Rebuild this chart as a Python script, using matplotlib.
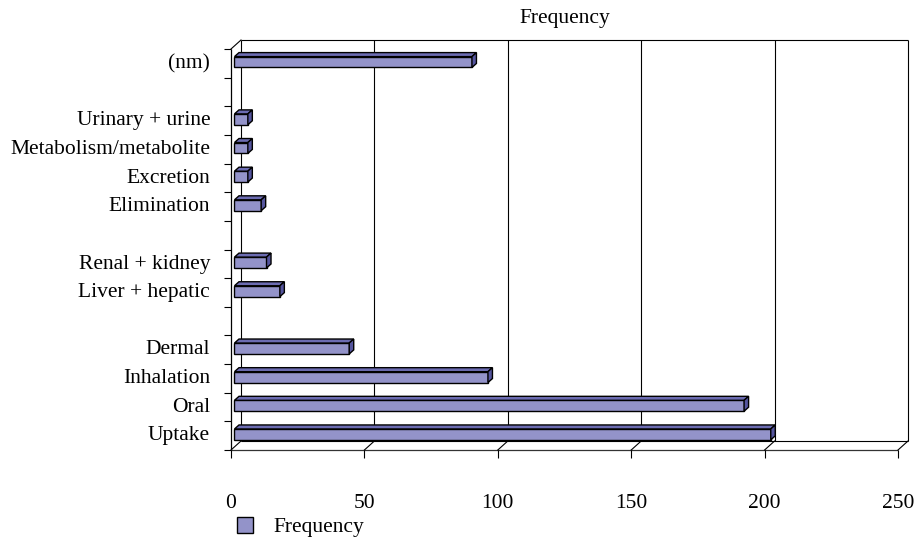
import numpy as np
import matplotlib.pyplot as plt
import matplotlib.transforms as mtransforms
from matplotlib.patches import Polygon
from matplotlib.lines import Line2D

# Данные (снизу вверх, пустые строки - разрывы между группами)
categories = ["Uptake", "Oral", "Inhalation", "Dermal", "",
              "Liver + hepatic", "Renal + kidney", "",
              "Elimination", "Excretion", "Metabolism/metabolite",
              "Urinary + urine", "", "(nm)"]
frequency = [201, 191, 95, 43, None, 17, 12, None, 10, 5, 5, 5, None, 89]
x_ticks = [0, 50, 100, 150, 200, 250]

front_c = '#9393c9'
top_c = '#6c6cb2'
side_c = '#55559e'

plt.rcParams['font.family'] = ['Liberation Serif', 'DejaVu Serif']
fs = 15.5

W, H = 917, 539
fig = plt.figure(figsize=(W / 100, H / 100), dpi=100)
ax = fig.add_axes([231 / W, (H - 450) / H, (898 - 231) / W, (450 - 49) / H])
ax.patch.set_visible(False)
for s in ax.spines.values():
    s.set_visible(False)

n = len(categories)
ypos = np.arange(n)
vals = np.array([np.nan if v is None else v for v in frequency], dtype=float)

ax.set_xlim(0, 250)
ax.set_ylim(-0.5, n - 0.5)

# смещение задней стенки (псевдо-3D)
depth = (10, 9)
back = mtransforms.offset_copy(ax.transData, fig=fig, x=depth[0], y=depth[1], units='dots')
ident = mtransforms.IdentityTransform()

# задняя стенка
ax.vlines(x_ticks, -0.5, n - 0.5, transform=back, color='black', lw=0.8, zorder=1, clip_on=False)
ax.hlines([-0.5, n - 0.5], 0, 250, transform=back, color='black', lw=0.8, zorder=1, clip_on=False)

# пол и левая стенка: передние линии
ax.hlines(-0.5, 0, 250, color='#333333', lw=0.9, zorder=1, clip_on=False)
ax.vlines(0, -0.5, n - 0.5, color='black', lw=0.9, zorder=1, clip_on=False)

# диагонали
for x in x_ticks:
    p0 = ax.transData.transform((x, -0.5))
    fig.add_artist(Line2D([p0[0], p0[0] + depth[0]], [p0[1], p0[1] + depth[1]],
                          transform=ident, color='black', lw=0.8))
p0 = ax.transData.transform((0, n - 0.5))
fig.add_artist(Line2D([p0[0], p0[0] + depth[0]], [p0[1], p0[1] + depth[1]],
                      transform=ident, color='black', lw=0.8))

# столбцы
bar_plane = mtransforms.offset_copy(ax.transData, fig=fig, x=3.5, y=3, units='dots')
bh = 0.38
yc = ypos - 0.06
mask = ~np.isnan(vals)
bars = ax.barh(yc[mask], vals[mask], height=bh, color=front_c, edgecolor='black',
               lw=1, transform=bar_plane, zorder=4, label='Frequency', clip_on=False)

d = np.array([4.5, 4.0])
for y, v in zip(yc[mask], vals[mask]):
    br = bar_plane.transform((v, y - bh / 2))
    tl = bar_plane.transform((0, y + bh / 2))
    tr = bar_plane.transform((v, y + bh / 2))
    top = Polygon([tl, tr, tr + d, tl + d], closed=True, transform=ident,
                  facecolor=top_c, edgecolor='black', lw=1, zorder=3)
    side = Polygon([br, tr, tr + d, br + d], closed=True, transform=ident,
                   facecolor=side_c, edgecolor='black', lw=1, zorder=3)
    fig.add_artist(top)
    fig.add_artist(side)

ax.set_xlim(0, 250)
ax.set_ylim(-0.5, n - 0.5)

# оси
ax.set_xticks(x_ticks)
ax.tick_params(axis='x', direction='out', length=6, width=0.8, pad=26, labelsize=fs)
ax.set_yticks(np.arange(-0.5, n), [])
ax.tick_params(axis='y', which='major', direction='out', length=5, width=0.8)
ax.set_yticks(ypos + 0.08, categories, minor=True)
ax.tick_params(axis='y', which='minor', length=0, pad=15, labelsize=fs)

fig.text(565 / W, (H - 19) / H, 'Frequency', ha='center', va='center', fontsize=fs)

ax.legend(handles=[bars], loc='center left', bbox_to_anchor=(237 / W, (H - 527) / H),
          bbox_transform=fig.transFigure, frameon=False, fontsize=fs,
          handlelength=0.75, handleheight=0.75, handletextpad=0.95,
          borderpad=0, borderaxespad=0)

plt.savefig('out.png', dpi=100)
